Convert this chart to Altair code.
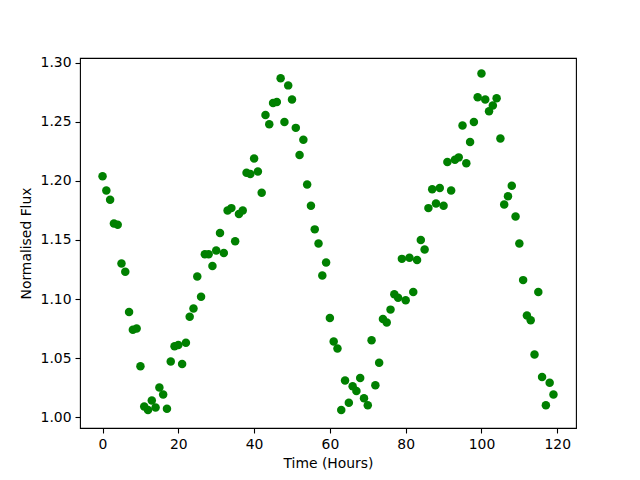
import altair as alt
import pandas as pd

hours = list(range(120))
flux = [
    1.204, 1.192, 1.184, 1.164, 1.163, 1.130, 1.123, 1.089, 1.074, 1.075,
    1.043, 1.009, 1.006, 1.014, 1.008, 1.025, 1.019, 1.007, 1.047, 1.060,
    1.061, 1.045, 1.063, 1.085, 1.092, 1.119, 1.102, 1.138, 1.138, 1.128,
    1.141, 1.156, 1.139, 1.175, 1.177, 1.149, 1.172, 1.175, 1.207, 1.206,
    1.219, 1.208, 1.190, 1.256, 1.248, 1.266, 1.267, 1.287, 1.250, 1.281,
    1.269, 1.245, 1.222, 1.235, 1.197, 1.179, 1.159, 1.147, 1.120, 1.131,
    1.084, 1.064, 1.058, 1.006, 1.031, 1.012, 1.026, 1.022, 1.033, 1.016,
    1.010, 1.065, 1.027, 1.046, 1.083, 1.080, 1.091, 1.104, 1.101, 1.134,
    1.099, 1.135, 1.106, 1.133, 1.150, 1.142, 1.177, 1.193, 1.181, 1.194,
    1.179, 1.216, 1.192, 1.218, 1.220, 1.247, 1.215, 1.233, 1.250, 1.271,
    1.291, 1.269, 1.259, 1.264, 1.270, 1.236, 1.180, 1.187, 1.196, 1.170,
    1.147, 1.116, 1.086, 1.082, 1.053, 1.106, 1.034, 1.010, 1.029, 1.019,
]
x_ticks = [0, 20, 40, 60, 80, 100, 120]
y_ticks = [1.00, 1.05, 1.10, 1.15, 1.20, 1.25, 1.30]

df = pd.DataFrame({"t": hours, "flux": flux})

font = "DejaVu Sans"
fs = 13.9

chart = alt.Chart(df).mark_circle(size=72, color="#008000", opacity=1).encode(
    x=alt.X("t:Q", scale=alt.Scale(domain=[-5.95, 124.95], nice=False, zero=False),
            axis=alt.Axis(title="Time (Hours)", values=x_ticks, grid=False, domain=False,
                          tickColor="black", tickSize=5, tickWidth=1.1, labelPadding=4,
                          labelColor="black", labelFont=font, labelFontSize=fs,
                          titleFont=font, titleFontSize=fs, titleFontWeight="normal",
                          titleColor="black", titlePadding=6)),
    y=alt.Y("flux:Q", scale=alt.Scale(domain=[0.9907, 1.3042], nice=False, zero=False),
            axis=alt.Axis(title="Normalised Flux", values=y_ticks, format=".2f", grid=False,
                          domain=False, tickColor="black", tickSize=5, tickWidth=1.1,
                          labelPadding=4, labelColor="black", labelFont=font, labelFontSize=fs,
                          titleFont=font, titleFontSize=fs, titleFontWeight="normal",
                          titleColor="black", titlePadding=7)),
).properties(
    width=496, height=370,
    autosize=alt.AutoSizeParams(type="none"),
    padding={"left": 72, "top": 50, "right": 56, "bottom": 44},
).configure_view(stroke="black", strokeWidth=1.1)

chart.save("out.html", embed_options={"renderer": "svg", "actions": False})
